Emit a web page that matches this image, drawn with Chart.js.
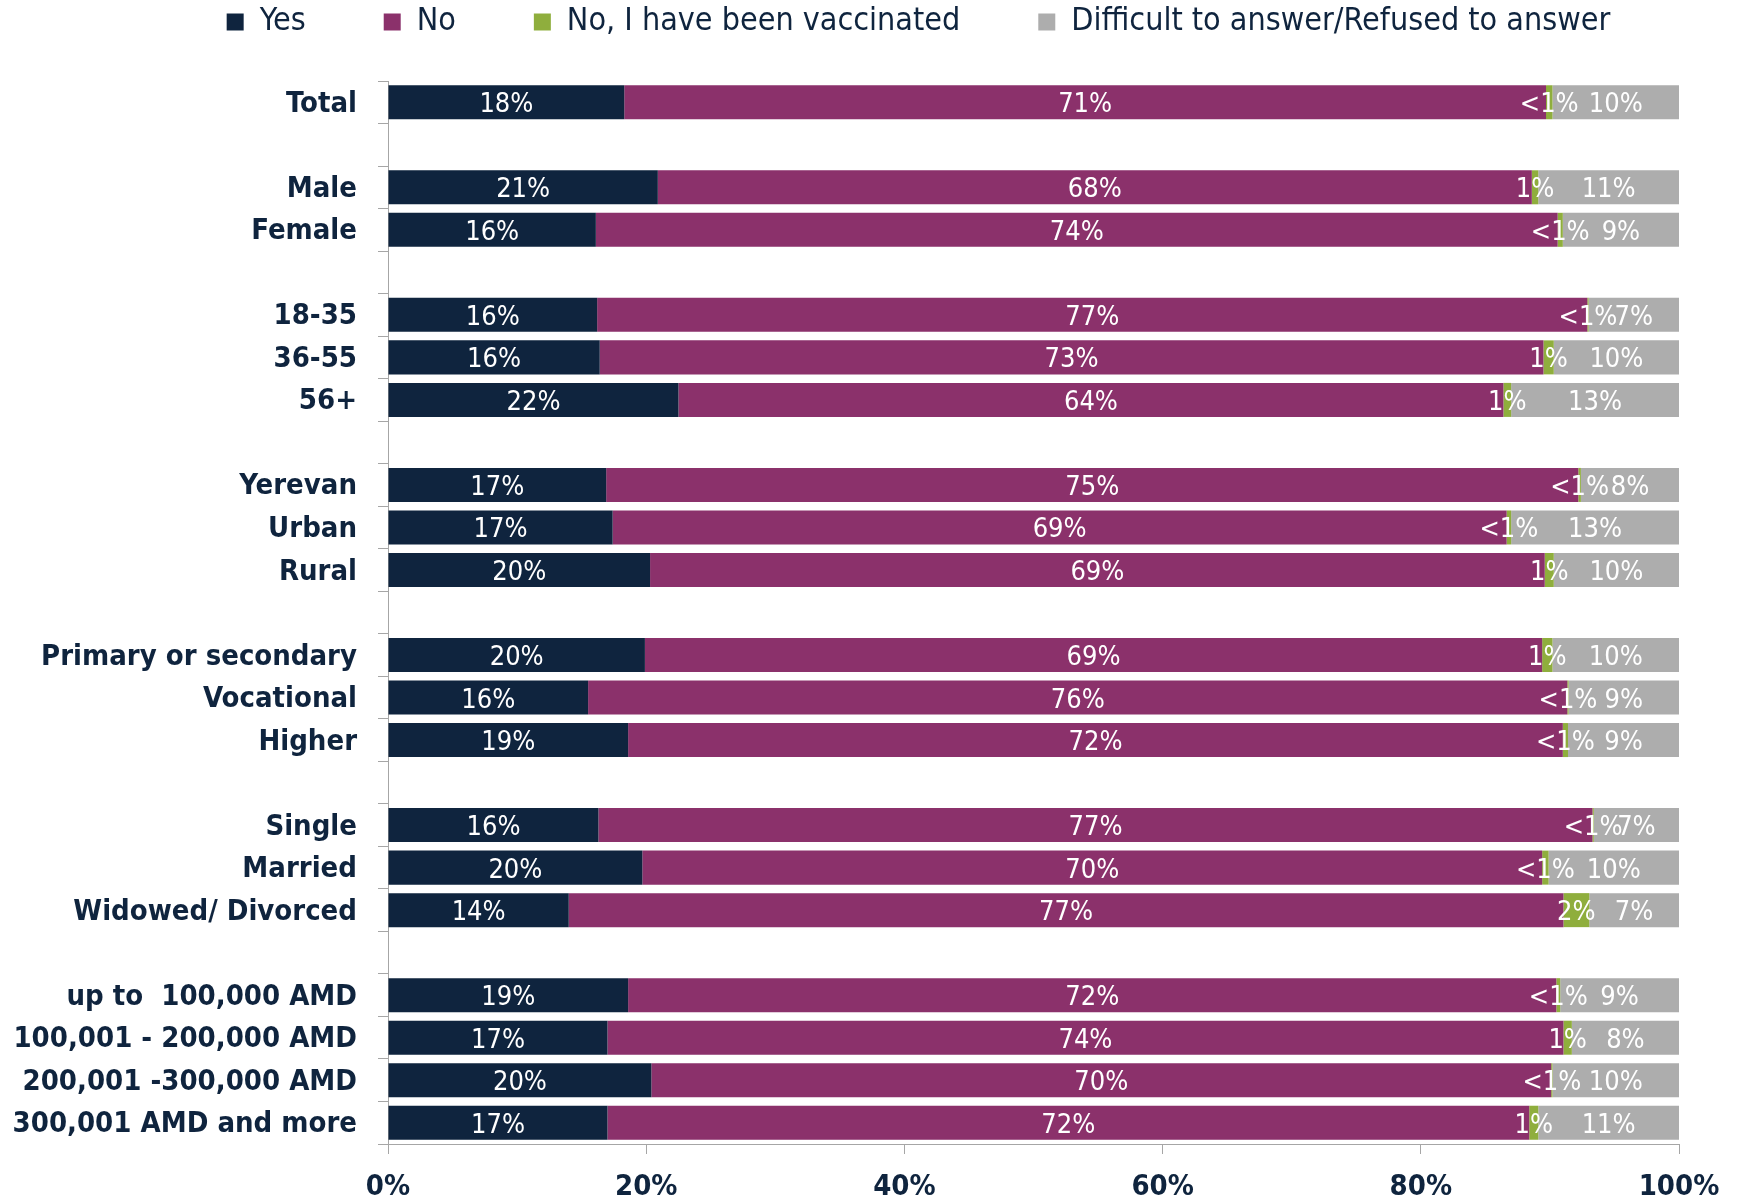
<!DOCTYPE html>
<html>
<head>
<meta charset="utf-8">
<script src="https://cdn.jsdelivr.net/npm/chart.js@4/dist/chart.umd.min.js"></script>
<style>
  html, body { margin: 0; padding: 0; background: #fff; }
  #wrap { width: 1738px; height: 1197px; }
</style>
</head>
<body>
<div id="wrap"><canvas id="chart"></canvas></div>
<script>
// rows of the chart, blank strings are the gaps between groups
const categories = [
  "Total", "",
  "Male", "Female", "",
  "18-35", "36-55", "56+", "",
  "Yerevan", "Urban", "Rural", "",
  "Primary or secondary", "Vocational", "Higher", "",
  "Single", "Married", "Widowed/ Divorced", "",
  "up to  100,000 AMD", "100,001 - 200,000 AMD", "200,001 -300,000 AMD", "300,001 AMD and more"
];

const yesValues  = [18.3, null, 20.9, 16.1, null, 16.2, 16.4, 22.5, null, 16.9, 17.4, 20.3, null, 19.9, 15.5, 18.6, null, 16.3, 19.7, 14.0, null, 18.6, 17.0, 20.4, 17.0];
const noValues   = [71.4, null, 67.7, 74.5, null, 76.7, 73.1, 63.9, null, 75.3, 69.25, 69.3, null, 69.5, 75.85, 72.4, null, 77.0, 69.7, 77.05, null, 71.9, 74.05, 69.7, 71.4];
const vaccValues = [0.5, null, 0.5, 0.4, null, 0.1, 0.8, 0.6, null, 0.2, 0.35, 0.7, null, 0.8, 0.1, 0.4, null, 0.1, 0.5, 2.0, null, 0.3, 0.65, 0.1, 0.7];
const dkValues   = [9.8, null, 10.9, 9.0, null, 7.0, 9.7, 13.0, null, 7.6, 13.0, 9.7, null, 9.8, 8.55, 8.6, null, 6.6, 10.1, 6.95, null, 9.2, 8.3, 9.8, 10.9];

const yesLabels  = ["18%", "", "21%", "16%", "", "16%", "16%", "22%", "", "17%", "17%", "20%", "", "20%", "16%", "19%", "", "16%", "20%", "14%", "", "19%", "17%", "20%", "17%"];
const noLabels   = ["71%", "", "68%", "74%", "", "77%", "73%", "64%", "", "75%", "69%", "69%", "", "69%", "76%", "72%", "", "77%", "70%", "77%", "", "72%", "74%", "70%", "72%"];
const vaccLabels = ["<1%", "", "1%", "<1%", "", "<1%", "1%", "1%", "", "<1%", "<1%", "1%", "", "1%", "<1%", "<1%", "", "<1%", "<1%", "2%", "", "<1%", "1%", "<1%", "1%"];
const dkLabels   = ["10%", "", "11%", "9%", "", "7%", "10%", "13%", "", "8%", "13%", "10%", "", "10%", "9%", "9%", "", "7%", "10%", "7%", "", "9%", "8%", "10%", "11%"];

const xTicks = [0, 20, 40, 60, 80, 100];

const NAVY = "#0f243e";
const AXIS = "#a6a6a6";
const FONT = "'DejaVu Sans Condensed', 'DejaVu Sans', sans-serif";
const LABEL_FONT = "27px 'DejaVu Sans Condensed', 'DejaVu Sans', sans-serif";

// legend sits a bit right of centre and close to the top edge
const LEGEND_DX = 79;
const LEGEND_Y = 22;

const moveLegend = {
  id: "moveLegend",
  afterLayout(chart) {
    const lg = chart.legend;
    lg.top = LEGEND_Y - lg.options.labels.padding - 16;
    lg.bottom = LEGEND_Y + 25;
    lg.left += LEGEND_DX;
    lg.right += LEGEND_DX;
  }
};

// white value text centred on each segment
const segmentLabels = {
  id: "segmentLabels",
  afterDatasetsDraw(chart) {
    const ctx = chart.ctx;
    ctx.save();
    ctx.font = LABEL_FONT;
    ctx.fillStyle = "#ffffff";
    ctx.textAlign = "center";
    ctx.textBaseline = "middle";
    chart.data.datasets.forEach((ds, i) => {
      chart.getDatasetMeta(i).data.forEach((bar, j) => {
        const txt = ds.valueLabels[j];
        if (!txt) return;
        const p = bar.getCenterPoint();
        ctx.fillText(txt, p.x, p.y + 3);
      });
    });
    ctx.restore();
  }
};

new Chart(document.getElementById("chart"), {
  type: "bar",
  data: {
    labels: categories,
    datasets: [
      {label: "Yes", data: yesValues, valueLabels: yesLabels, backgroundColor: NAVY},
      {label: "No", data: noValues, valueLabels: noLabels, backgroundColor: "#8b316b"},
      {label: "No, I have been vaccinated", data: vaccValues, valueLabels: vaccLabels, backgroundColor: "#8fae3d"},
      {label: "Difficult to answer/Refused to answer", data: dkValues, valueLabels: dkLabels, backgroundColor: "#adadad"}
    ]
  },
  options: {
    indexAxis: "y",
    responsive: true,
    maintainAspectRatio: false,
    animation: false,
    layout: {padding: {top: 41, right: 59, bottom: 0, left: 0}},
    datasets: {bar: {barPercentage: 0.8, categoryPercentage: 1, borderWidth: 0}},
    plugins: {
      legend: {
        position: "top",
        maxHeight: 40,
        labels: {color: NAVY, font: {family: FONT, size: 32}, boxWidth: 17, boxHeight: 17, padding: 78}
      },
      tooltip: {enabled: false}
    },
    scales: {
      x: {
        stacked: true, min: 0, max: 100,
        afterBuildTicks: s => { s.ticks = xTicks.map(v => ({value: v})); },
        afterFit: s => { s.height = 53; s.paddingLeft = 0; s.paddingRight = 0; },
        ticks: {color: NAVY, font: {family: FONT, size: 29, weight: "bold"}, padding: 16, maxRotation: 0, callback: v => v + "%"},
        grid: {drawOnChartArea: false, drawTicks: true, tickLength: 10, color: AXIS},
        border: {color: AXIS, width: 1}
      },
      y: {
        stacked: true,
        afterFit: s => { s.width = 388; s.paddingTop = 0; s.paddingBottom = 0; },
        ticks: {color: NAVY, font: {family: FONT, size: 29, weight: "bold"}, padding: 21, labelOffset: 2, autoSkip: false},
        grid: {offset: true, drawOnChartArea: false, drawTicks: true, tickLength: 10, color: AXIS},
        border: {color: AXIS, width: 1}
      }
    }
  },
  plugins: [moveLegend, segmentLabels]
});
</script>
</body>
</html>
